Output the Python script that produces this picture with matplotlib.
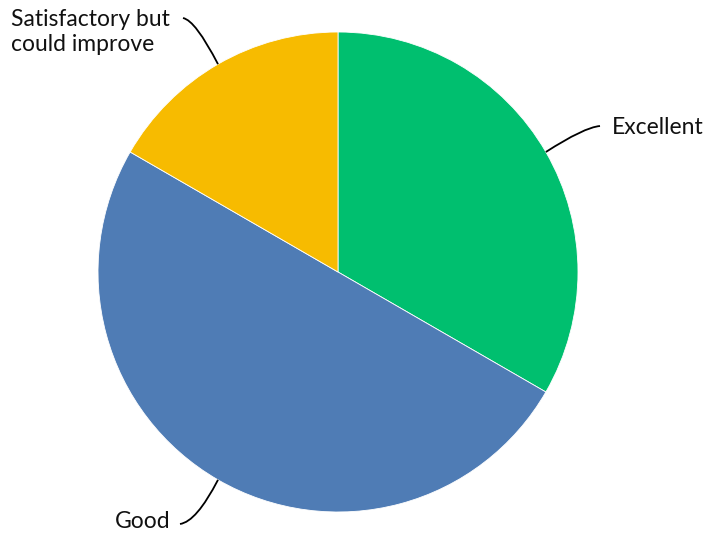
import matplotlib
matplotlib.use("Agg")
import matplotlib.pyplot as plt
import numpy as np
from matplotlib.path import Path
from matplotlib.patches import PathPatch

categories = ["Excellent", "Good", "Satisfactory but\ncould improve"]
values = [2, 3, 1]
colors = ["#00BF6F", "#4F7CB5", "#F7BB00"]

W, H = 711, 538
fig = plt.figure(figsize=(W / 100, H / 100), dpi=100)
ax = fig.add_axes([0, 0, 1, 1])

cx, cy, r = 338, H - 272, 240
wedges, _ = ax.pie(values, colors=colors, startangle=90, counterclock=False,
                   center=(cx, cy), radius=r,
                   wedgeprops=dict(edgecolor="white", linewidth=0.6))
ax.set_xlim(0, W)
ax.set_ylim(0, H)
ax.set_aspect("equal")
ax.axis("off")

# label anchors: (line end x, line end y, text x, text y, ha)
anchors = [
    (600, H - 126, 612, H - 128, "left"),
    (180, H - 524, 171, H - 522, "right"),
    (183, H - 18, 11, H - 32, "left"),
]

for w, lab, (ex, ey, tx, ty, ha) in zip(wedges, categories, anchors):
    mid = np.deg2rad((w.theta1 + w.theta2) / 2)
    ux, uy = np.cos(mid), np.sin(mid)
    sx, sy = cx + r * ux, cy + r * uy
    # control point: along the radial direction until level with the end point
    t = (ey - sy) / uy
    ctrl = (sx + t * ux * 0.85, sy + t * uy * 0.95)
    path = Path([(sx, sy), ctrl, (ex, ey)], [Path.MOVETO, Path.CURVE3, Path.CURVE3])
    ax.add_patch(PathPatch(path, fill=False, edgecolor="black", linewidth=1.3))
    ax.text(tx, ty, lab, ha=ha, va="center", fontsize=16.5, family="Lato",
            color="#111111", multialignment="left", linespacing=1.2)

fig.savefig("out.png", dpi=100)
